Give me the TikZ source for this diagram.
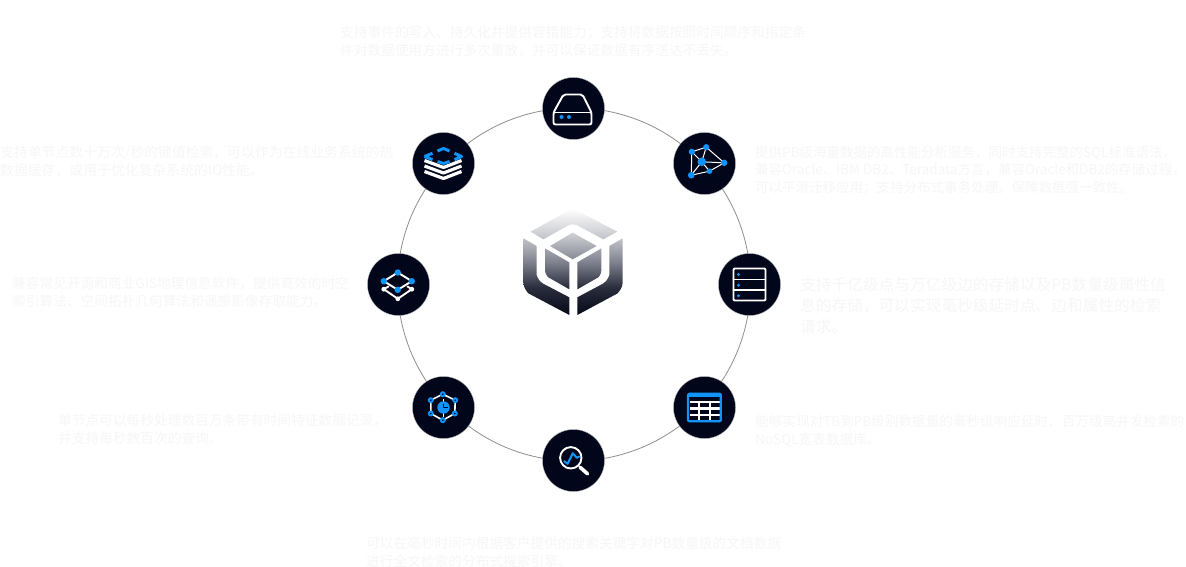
\documentclass[tikz,border=0pt]{standalone}
\usepackage{fontspec}
\setmainfont{Noto Sans CJK SC}
\newcommand\qcomma{\char"FF0C\relax}
\newcommand\qsemi{\char"FF1B\relax}
\definecolor{hubdark}{HTML}{02061A}
\definecolor{iconblue}{HTML}{1094FA}
\definecolor{notegray}{HTML}{F6F6F6}
\definecolor{ringgray}{HTML}{8E8E8E}
\definecolor{logolight}{HTML}{C8C9CE}
\definecolor{logomid}{HTML}{80838F}
\definecolor{logolow}{HTML}{2A2D3C}
\definecolor{logodark}{HTML}{040818}
\pgfdeclareverticalshading{logoshade}{100bp}{color(0bp)=(logodark); color(25bp)=(logodark); color(38bp)=(logolow); color(50bp)=(logomid); color(62bp)=(logolight); color(75bp)=(white); color(100bp)=(white)}
\tikzset{
	hub/.style={circle,fill=hubdark,draw=white!70!black,line width=.3pt,minimum size=62pt,inner sep=0pt},
	note/.style={anchor=north west,inner sep=0pt,align=left,text=notegray,font=\fontsize{13.7}{17.3}\selectfont},
	bignote/.style={note,font=\fontsize{15.7}{20.8}\selectfont},
	wline/.style={draw=white,line width=1.9pt,line join=round,line cap=round},
	bline/.style={draw=iconblue,line width=2pt,line join=round,line cap=round}
}
\begin{document}
\begin{tikzpicture}[x=1pt,y=-1pt,line join=round]
	\useasboundingbox[fill=white] (0,0) rectangle (1186,567);
	\path
	(574,284.5) coordinate (O)
	(573.5,108.5) coordinate (A)
	(704.5,163.5) coordinate (B)
	(749.5,284.5) coordinate (C)
	(704.5,407.5) coordinate (D)
	(573.5,460.5) coordinate (E)
	(443.5,407.5) coordinate (F)
	(398.5,284.5) coordinate (G)
	(443.5,163.5) coordinate (H)
	;
	\draw[ringgray,line width=.8pt] (O) circle(176.5);
	\foreach \x in {A,B,C,D,E,F,G,H}\node[hub] (hub\x) at (\x) {};
	% logo
	\begin{scope}[shift={(500,190)},scale=1/3]
		\shade[shading=logoshade]
		(218,55)--(352,125)--(310,148)--(232,106)[rounded corners=4pt]--(218,100)--(205,106)[sharp corners]--(130,148)--(92,125)--cycle
		(218,128)--(290,168)--(218,208)--(150,168)--cycle
		(135,175)--(208,217)--(208,298)--(145,262)[rounded corners=3pt]--(135,250)[sharp corners]--cycle
		(304,175)--(232,217)--(232,298)--(295,262)[rounded corners=3pt]--(304,250)[sharp corners]--cycle
		(70,145)--(110,168)--(110,255)[rounded corners=4pt]--(118,275)[sharp corners]--(208,322)--(208,375)--(85,310)[rounded corners=4pt]--(70,290)[sharp corners]--cycle
		(368,145)--(328,168)--(328,255)[rounded corners=4pt]--(320,275)[sharp corners]--(232,322)--(232,375)--(353,310)[rounded corners=4pt]--(368,290)[sharp corners]--cycle;
	\end{scope}
	% storage
	\begin{scope}[shift={(A)}]
		\draw[wline,rounded corners=2pt] (-20,4)--(-10,-14)--(9,-14)--(18,4)--(18,16)--(-20,16)--cycle;
		\draw[wline] (-20,4)--(18,4);
		\foreach \p in {-12,-4.5}\fill[iconblue] (\p,8.5) circle(2);
	\end{scope}
	% graph
	\begin{scope}[shift={(B)}]
		\path (-2.7,-1.7) coordinate (a) (-12.7,-11.7) coordinate (b) (1.7,-16.3) coordinate (c)
		(19.7,-.7) coordinate (d) (5,7.7) coordinate (e) (-13.3,11.7) coordinate (f);
		\draw[white,line width=1pt] (b)--(c)--(d)--(e)--(f)--(b) (a)--(b) (a)--(c) (a)--(d) (a)--(e) (a)--(f);
		\foreach \x/\g in {a/4.3,b/3.1,c/3.1,d/3.2,e/2.8,f/3.3}\fill[iconblue] (\x) circle(\g);
	\end{scope}
	% server
	\begin{scope}[shift={(C)}]
		\draw[wline,rounded corners=1pt] (-16,-16) rectangle (16,16);
		\draw[wline] (-16,-5)--(16,-5) (-16,5.6)--(16,5.6);
		\foreach \p in {-10,.7,11.3}\fill[iconblue] (-11,\p) circle(1.6);
	\end{scope}
	% table
	\begin{scope}[shift={(D)}]
		\draw[white,line width=2.4pt] (-15,-5.7)--(15,-5.7) (-15,1)--(15,1) (-15,7.7)--(15,7.7) (-5.3,-7)--(-5.3,12) (5.7,-7)--(5.7,12);
		\draw[bline,line width=2.2pt,rounded corners=1pt] (-16.5,-13.7) rectangle (16.3,13.7);
		\draw[bline] (-16.5,-11.5)--(16.3,-11.5);
	\end{scope}
	% search
	\begin{scope}[shift={(E)}]
		\draw[wline] (-2.7,-2.7) circle(10.7);
		\draw[white,line width=3.6pt,line cap=round] (6.5,6.7)--(14,13.3);
		\draw[bline] (-9.3,.7)--(-6,3.3)--(-.7,-7.3)--(3.3,-2.7)--(6,-4);
	\end{scope}
	% timeseries
	\begin{scope}[shift={(F)}]
		\draw[white,line width=1.6pt] (-.7,-13.3)--(11.7,-7.3)--(11.3,6)--(-.7,12.7)--(-12.7,6)--(-12.7,-7.3)--cycle;
		\draw[white,line width=1.6pt] (0,-9)--(0,-5) (0,5)--(0,9);
		\fill[iconblue] (0,0) circle(6.2);
		\draw[hubdark,line width=1.2pt] (0,-4)--(0,0)--(4,0);
		\foreach \x/\y in {-.7/-13.3,11.7/-7.3,11.3/6,-.7/12.7,-12.7/6,-12.7/-7.3}{
			\fill[iconblue] (\x,\y) circle(3);
			\fill[hubdark] (\x,\y) circle(.9);
		}
	\end{scope}
	% spatial
	\begin{scope}[shift={(G)}]
		\draw[wline] (-.7,-12)--(13.3,-3.3)--(-.7,5.3)--(-14.7,-3.3)--cycle;
		\draw[wline] (-10,2)--(-14.7,4.7)--(-.7,14.3)--(13.3,4.7)--(9,2);
		\foreach \x/\y in {-14.7/4.7,-.7/14.3,13.3/4.7}\fill[white] (\x,\y) circle(2.4);
		\foreach \x/\y in {-.7/-12,13.3/-3.3,-.7/5.3,-14.7/-3.3}\fill[iconblue] (\x,\y) circle(3.2);
	\end{scope}
	% cache
	\begin{scope}[shift={(H)}]
		\foreach \y in {-3,2.5,8}\draw[white,line width=3.2pt] (-19,\y)--(0,\y+7)--(18,\y);
		\draw[iconblue,line width=3pt] (-19,-7)--(-11,-10.2) (-6,-12.5)--(0,-15)--(6,-12.5) (11,-10.2)--(18,-7)--(11,-3.8) (6,-2)--(0,0)--(-6,-2) (-11,-3.8)--(-19,-7);
	\end{scope}
	% texts
	\node[note] (topnote) at (340,26) {支持事件的写入、持久化并提供容错能力\qsemi 支持将数据按照时间顺序和指定条\\件对数据使用方进行多次重放\qcomma 并可以保证数据有序送达不丢失。};
	\node[note,font=\fontsize{13.85}{17.3}\selectfont] (cachenote) at (0,146) {支持单节点数十万次/秒的键值检索\qcomma 可以作为在线业务系统的热\\数据缓存\qcomma 或用于优化复杂系统的IO性能。};
	\node[note,font=\fontsize{13.5}{17.3}\selectfont] (graphnote) at (755,146) {提供PB级海量数据的高性能分析服务\qcomma 同时支持完整的SQL标准语法\qcomma\\兼容Oracle、IBM DB2、Teradata方言\qcomma 兼容Oracle和DB2的存储过程\qcomma\\可以平滑迁移应用\qsemi 支持分布式事务处理\qcomma 保障数据强一致性。};
	\node[bignote] (servernote) at (800,277) {支持千亿级点与万亿级边的存储以及PB数量级属性信\\息的存储\qcomma 可以实现毫秒级延时点、边和属性的检索\\请求。};
	\node[note] (spatialnote) at (12,277) {兼容常见开源和商业GIS地理信息软件\qcomma 提供高效的时空\\索引算法、空间拓扑几何算法和遥感影像存取能力。};
	\node[note] (seriesnote) at (58,414) {单节点可以每秒处理数百万条带有时间特征数据记录\qcomma\\并支持每秒数百次的查询。};
	\node[note,font=\fontsize{13.6}{17.3}\selectfont] (tablenote) at (755,415) {能够实现对TB到PB级别数据量的毫秒级响应延时、百万级高并发检索的\\NoSQL宽表数据库。};
	\node[note] (searchnote) at (366,537) {可以在毫秒时间内根据客户提供的搜索关键字对PB数量级的文档数据\\进行全文检索的分布式搜索引擎。};
\end{tikzpicture}
\end{document}
